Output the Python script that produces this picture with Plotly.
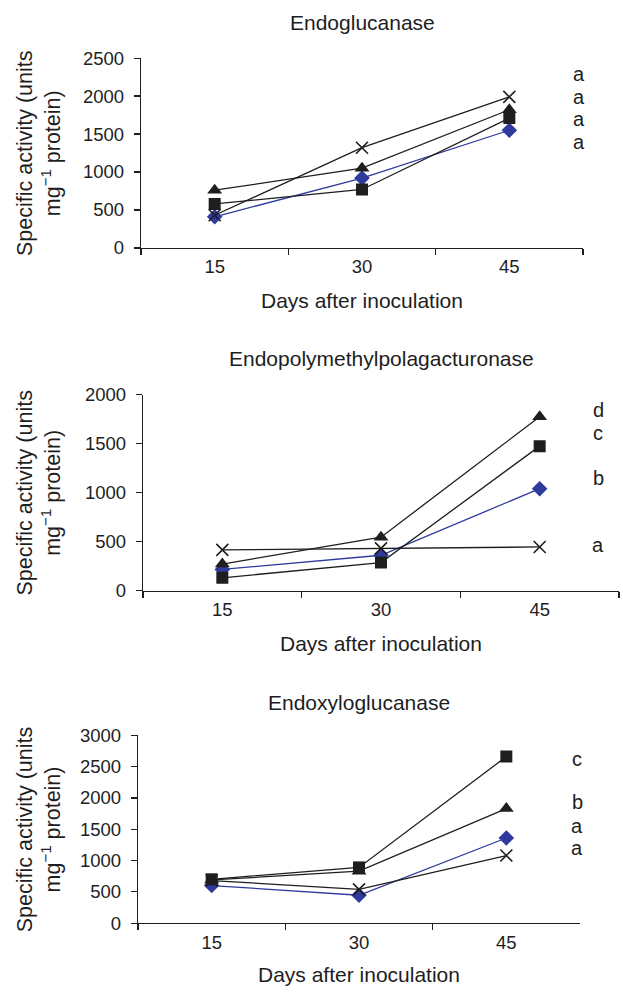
import plotly.graph_objects as go

# ---------------- data ----------------
days = ["15", "30", "45"]

# Panel 1: Endoglucanase
endo_diamond = [410, 920, 1550]
endo_square = [580, 770, 1710]
endo_triangle = [760, 1050, 1820]
endo_cross = [430, 1320, 1990]
endo_letters = ["a", "a", "a", "a"]
endo_letter_y = [2289, 1987, 1697, 1395]

# Panel 2: Endopolymethylpolagacturonase
pmg_diamond = [215, 360, 1040]
pmg_square = [130, 285, 1475]
pmg_triangle = [270, 545, 1775]
pmg_cross = [415, 430, 445]
pmg_letters = ["d", "c", "b", "a"]
pmg_letter_y = [1847, 1609, 1150, 469]

# Panel 3: Endoxyloglucanase
xg_diamond = [600, 445, 1360]
xg_square = [700, 890, 2660]
xg_triangle = [690, 830, 1830]
xg_cross = [680, 540, 1080]
xg_letters = ["c", "b", "a", "a"]
xg_letter_y = [2627, 1927, 1554, 1194]

titles = ["Endoglucanase", "Endopolymethylpolagacturonase", "Endoxyloglucanase"]
y_max = [2500, 2000, 3000]
x_title = "Days after inoculation"
y_title = "Specific activity (units<br>mg<sup>\u22121</sup> protein)"

# ---------------- layout helpers ----------------
W, H = 623, 992
FONT = "Liberation Sans, Arial, sans-serif"
BLACK = "#1e1e1e"
BLUE = "#2e3a9c"


def fx(p):
    return p / W


def fy(p):
    # vertical pixel position (as seen in the captured picture) -> paper fraction
    q = p / 0.98 - 10
    return 1 - q / H


# plot boxes in pixels: (left, right, top, bottom)
boxes = [(141, 583, 57, 247), (143, 619, 394, 590), (138, 580, 735, 923)]
title_y = [21, 358, 702]
xtitle_y = [300, 643, 974]
letter_x = [579, 598, 577]

panels = [
    (endo_diamond, endo_square, endo_triangle, endo_cross, endo_letters, endo_letter_y),
    (pmg_diamond, pmg_square, pmg_triangle, pmg_cross, pmg_letters, pmg_letter_y),
    (xg_diamond, xg_square, xg_triangle, xg_cross, xg_letters, xg_letter_y),
]

fig = go.Figure()
annotations = []

for i, (dia, sq, tri, crs, letters, ly) in enumerate(panels):
    n = "" if i == 0 else str(i + 1)
    xa, ya = "x" + n, "y" + n
    series = [
        (dia, "diamond", 12, BLUE, BLUE),
        (tri, "triangle-up", 13, BLACK, BLACK),
        (sq, "square", 12, BLACK, BLACK),
        (crs, "x-thin", 12, BLACK, BLACK),
    ]
    for vals, sym, size, lc, mc in series:
        fig.add_trace(go.Scatter(
            x=days, y=vals, xaxis=xa, yaxis=ya, mode="lines+markers",
            line=dict(color=lc, width=1.3),
            marker=dict(symbol=sym, size=size, color=mc,
                        line=dict(color=mc, width=1.6 if sym == "x-thin" else 0)),
            showlegend=False, hoverinfo="skip"))

    l, r, t, b = boxes[i]
    fig.update_layout(**{
        "xaxis" + n: dict(
            domain=[fx(l), fx(r)], anchor=ya, type="category",
            categoryorder="array", categoryarray=days, range=[-0.5, 2.5],
            tickson="boundaries", ticks="outside", ticklen=6, tickwidth=1.2,
            tickcolor=BLACK, showline=True, linecolor=BLACK, linewidth=1.2,
            showgrid=False, zeroline=False, ticklabelstandoff=2,
            tickfont=dict(family=FONT, size=18.5, color=BLACK)),
        "yaxis" + n: dict(
            domain=[fy(b), fy(t)], anchor=xa, range=[0, y_max[i]], dtick=500,
            ticks="outside", ticklen=6, tickwidth=1.2, tickcolor=BLACK,
            showline=True, linecolor=BLACK, linewidth=1.2,
            showgrid=False, zeroline=False, ticklabelstandoff=6,
            tickfont=dict(family=FONT, size=18.5, color=BLACK)),
    })

    cx = fx((l + r) / 2)
    annotations.append(dict(text=titles[i], x=cx, y=fy(title_y[i]), xref="paper", yref="paper",
                            xanchor="center", yanchor="middle", showarrow=False,
                            font=dict(family=FONT, size=21, color=BLACK)))
    annotations.append(dict(text=x_title, x=cx, y=fy(xtitle_y[i]), xref="paper", yref="paper",
                            xanchor="center", yanchor="middle", showarrow=False,
                            font=dict(family=FONT, size=21, color=BLACK)))
    annotations.append(dict(text=y_title, x=fx(39), y=fy((t + b) / 2), xref="paper", yref="paper",
                            xanchor="center", yanchor="middle", showarrow=False, textangle=-90,
                            font=dict(family=FONT, size=21.5, color=BLACK)))
    for lt, yv in zip(letters, ly):
        annotations.append(dict(text=lt, x=fx(letter_x[i]), y=yv, xref="paper", yref=ya,
                                xanchor="center", yanchor="middle", showarrow=False,
                                font=dict(family=FONT, size=20, color=BLACK)))

fig.update_layout(
    width=W, height=H, margin=dict(l=0, r=0, t=0, b=0),
    paper_bgcolor="white", plot_bgcolor="white",
    annotations=annotations,
)

fig.write_html(
    "out.html",
    config={"displayModeBar": False, "staticPlot": True},
    post_script=(
        "document.body.style.margin='0px';"
        "document.documentElement.style.overflow='hidden';"
        "document.body.style.overflow='hidden';"
    ),
)
